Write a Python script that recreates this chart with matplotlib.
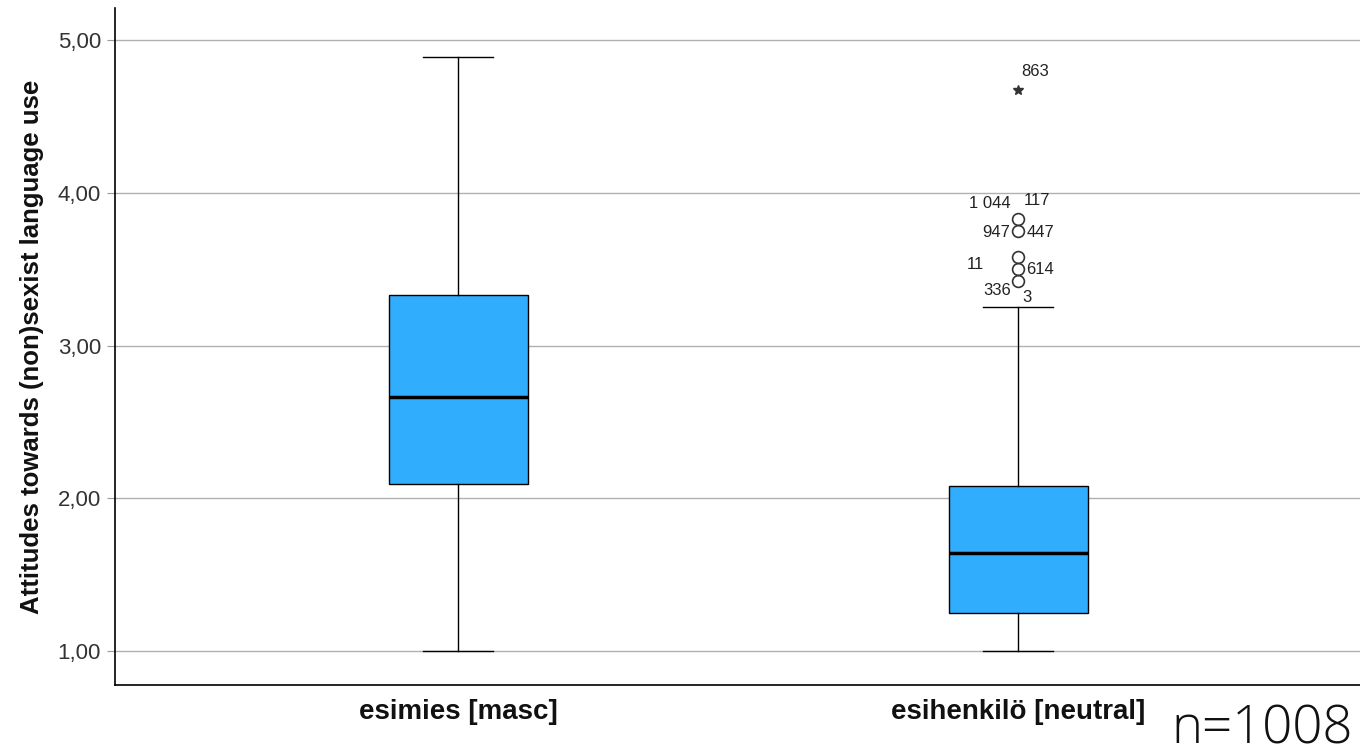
import matplotlib.pyplot as plt

plt.rcParams['font.family'] = ['Liberation Sans', 'DejaVu Sans']

# data
groups = ['esimies [masc]', 'esihenkilö [neutral]']
whislo = [1.00, 1.00]
q1 = [2.09, 1.25]
med = [2.66, 1.64]
q3 = [3.33, 2.08]
whishi = [4.89, 3.25]

outliers = [3.83, 3.75, 3.58, 3.50, 3.42]   # circles, group 2
extremes = [4.67]                            # star, group 2

# case labels: text, value, dx, dy (pixels)
case_labels = [('863', 4.67, 17, 19),
               ('1 044', 3.83, -28, 15), ('117', 3.83, 19, 18),
               ('947', 3.75, -22, -2), ('447', 3.75, 22, -2),
               ('11', 3.58, -43, -8), ('614', 3.50, 22, 0),
               ('336', 3.42, -21, -9), ('3', 3.42, 9, -16)]

fig = plt.figure(figsize=(13.6, 7.56), dpi=100)
ax = fig.add_axes([115/1360, 71/756, 1 - 115/1360, (685-8)/756])

stats = []
for i in range(len(groups)):
    stats.append(dict(whislo=whislo[i], q1=q1[i], med=med[i], q3=q3[i],
                      whishi=whishi[i], fliers=outliers if i == 1 else []))

bp = ax.bxp(stats, positions=[1, 2], widths=0.248, patch_artist=True,
            boxprops=dict(facecolor='#31adfe', edgecolor='black', linewidth=1),
            medianprops=dict(color='black', linewidth=2.5),
            whiskerprops=dict(color='black', linewidth=1),
            capprops=dict(color='black', linewidth=1),
            flierprops=dict(marker='o', markerfacecolor='none', markeredgecolor='#333333',
                            markersize=8.5, markeredgewidth=1.2))
for c in bp['caps']:
    x0, x1 = c.get_xdata()
    m = (x0 + x1) / 2
    c.set_xdata([m - 0.0625, m + 0.0625])

ax.plot([2] * len(extremes), extremes, marker='*', linestyle='none', color='#333333',
        markersize=7)

for txt, v, dx, dy in case_labels:
    ax.annotate(txt, (2, v), xytext=(dx * 0.72, dy * 0.72), textcoords='offset points',
                ha='center', va='center', fontsize=12, color='#222222')

ax.set_xlim(0.3875, 2.61)
ax.set_ylim(0.777, 5.21)
ax.set_yticks([1, 2, 3, 4, 5])
ax.set_yticklabels(['1,00', '2,00', '3,00', '4,00', '5,00'], fontsize=16, color='#333333')
ax.set_xticks([1, 2])
ax.set_xticklabels(groups, fontsize=20, fontweight='bold', color='#111111')
ax.tick_params(axis='x', length=0, pad=10)
ax.tick_params(axis='y', length=6, color='#999999', pad=4)
ax.yaxis.grid(True, color='#b0b0b0', linewidth=1)
ax.set_axisbelow(True)
ax.spines['top'].set_visible(False)
ax.spines['right'].set_visible(False)
ax.spines['left'].set_linewidth(1.2)
ax.spines['bottom'].set_linewidth(1.2)
ax.set_ylabel('Attitudes towards (non)sexist language use', fontsize=18.5, fontweight='bold',
              labelpad=10, color='#111111')

fig.text(0.995, 0.0, 'n=1008', ha='right', va='bottom', fontsize=38,
         family=['Open Sans', 'DejaVu Sans'], fontweight='light', color='#111111')

fig.savefig('out.png', dpi=100)
